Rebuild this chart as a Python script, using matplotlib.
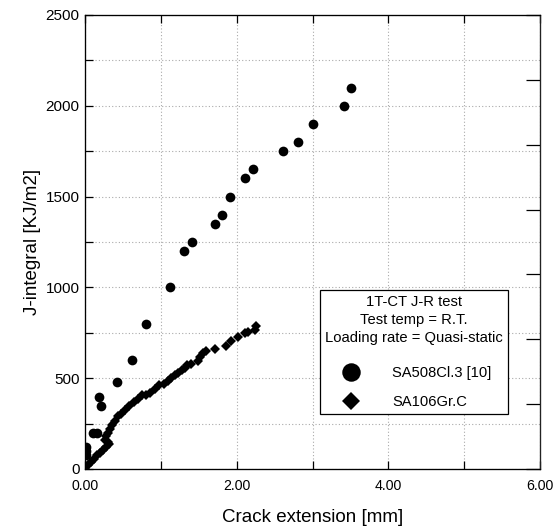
import matplotlib
matplotlib.use("Agg")
import matplotlib.pyplot as plt
from matplotlib.lines import Line2D
import numpy as np

plt.rcParams['font.family'] = ['Liberation Sans', 'DejaVu Sans']

# SA508Cl.3 [10] (circles)
sa508_x = [0.01, 0.01, 0.01, 0.11, 0.16, 0.19, 0.215, 0.42, 0.62, 0.81, 1.12,
           1.31, 1.41, 1.72, 1.81, 1.91, 2.11, 2.22, 2.61, 2.81, 3.01, 3.41, 3.51]
sa508_y = [75, 100, 120, 197, 197, 397, 346, 478, 598, 800, 1000,
           1200, 1250, 1350, 1400, 1500, 1600, 1650, 1750, 1800, 1900, 2000, 2100]

# SA106Gr.C (diamonds)
sa106_x = [0.00, 0.04, 0.08, 0.12, 0.16, 0.20, 0.24, 0.28, 0.32, 0.30, 0.27, 0.28,
           0.30, 0.33, 0.36, 0.40, 0.44, 0.48, 0.53, 0.58, 0.64, 0.70, 0.75, 0.80,
           0.86, 0.92, 0.97, 1.04, 1.10, 1.14, 1.19, 1.22, 1.28, 1.32, 1.34, 1.40,
           1.49, 1.51, 1.56, 1.60, 1.71, 1.86, 1.93, 2.02, 2.11, 2.15, 2.24, 2.26]
sa106_y = [5, 20, 40, 55, 75, 90, 105, 120, 135, 150, 160, 180,
           200, 220, 245, 265, 290, 305, 326, 345, 370, 385, 405, 410,
           420, 440, 460, 470, 485, 500, 515, 528, 545, 556, 575, 580,
           592, 614, 638, 648, 662, 680, 703, 725, 749, 755, 767, 790]

x_ticks = [0, 2, 4, 6]
x_tick_labels = ["0.00", "2.00", "4.00", "6.00"]
y_ticks = [0, 500, 1000, 1500, 2000, 2500]

legend_title = "1T-CT J-R test\nTest temp = R.T.\nLoading rate = Quasi-static"
label_508 = "SA508Cl.3 [10]"
label_106 = "SA106Gr.C"

fig = plt.figure(figsize=(5.56, 5.28), dpi=100)
ax = fig.add_axes([85/556, 1-469/528, (540-85)/556, (469-15)/528])

ax.plot(sa508_x, sa508_y, linestyle='none', marker='o', ms=7.0, color='black',
        markeredgewidth=0, label=label_508)
ax.plot(sa106_x, sa106_y, linestyle='none', marker='D', ms=5.0, color='black',
        markeredgewidth=0, label=label_106)

ax.set_xlim(0, 6)
ax.set_ylim(0, 2500)
ax.set_xticks(x_ticks)
ax.set_xticklabels(x_tick_labels)
ax.set_xticks(np.arange(0, 7, 1), minor=True)
ax.set_yticks(y_ticks)
ax.set_yticks(np.arange(0, 2501, 250), minor=True)

ax.grid(True, which='both', linestyle=(0, (1, 2)), color='#aaaaaa', linewidth=0.8)
ax.set_axisbelow(True)

ax.tick_params(which='both', direction='in', length=6, width=0.9, top=True,
               right=False)
ax.tick_params(axis='x', labelsize=10.2, pad=7)
ax.tick_params(axis='y', labelsize=11, pad=4)
for s in ax.spines.values():
    s.set_linewidth(0.9)
    s.set_color('#222222')

# right axis ticks
ax2 = ax.twinx()
ax2.set_ylim(0, 2500)
ax2.set_yticks([2500 * k / 7 for k in range(8)])
ax2.tick_params(direction='in', length=10, width=0.9, labelright=False)
ax2.spines['right'].set_color('#222222')

ax.set_xlabel("Crack extension [mm]", fontsize=13.5, labelpad=12)
ax.set_ylabel("J-integral [KJ/m2]", fontsize=13.5, labelpad=3)

handles = [Line2D([], [], linestyle='none', marker='o', ms=7.0, color='black', markeredgewidth=0),
           Line2D([], [], linestyle='none', marker='D', ms=4.6, color='black', markeredgewidth=0)]
leg = ax2.legend(handles, [label_508, label_106], title=legend_title,
                 loc='upper left', bbox_to_anchor=(320/556, 1-290/528),
                 bbox_transform=fig.transFigure, borderaxespad=0,
                 fontsize=10.6, title_fontsize=10.6, markerscale=1.9,
                 frameon=True, fancybox=False, edgecolor='black', framealpha=1,
                 handlelength=3.55, handletextpad=1.0, labelspacing=1.0,
                 borderpad=0.35, alignment='left')
leg.get_frame().set_linewidth(0.9)
leg.get_title().set_multialignment('center')
leg.get_title().set_linespacing(1.35)
try:
    leg._legend_box.sep = 15.5
except Exception:
    pass

fig.savefig("out.png", dpi=100)
